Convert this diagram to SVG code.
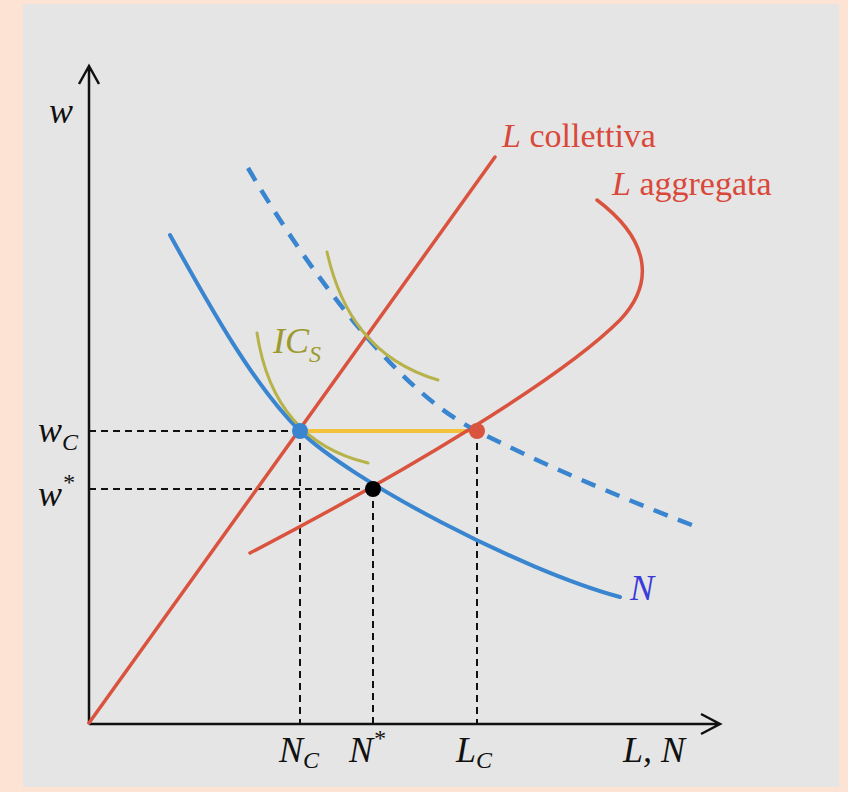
<svg xmlns="http://www.w3.org/2000/svg" width="848" height="792" viewBox="0 0 848 792">
<style>
.axis{stroke:#111;stroke-width:2.5;fill:none}
.guide{stroke:#111;stroke-width:2;stroke-dasharray:7 5;fill:none}
.red{stroke:#d9533f;stroke-width:3.5;fill:none;stroke-linecap:round}
.blue{stroke:#3a85cf;stroke-width:4;fill:none;stroke-linecap:round}
.bluedash{stroke:#3a85cf;stroke-width:4.5;fill:none;stroke-dasharray:15 11}
.ic{stroke:#b7b24a;stroke-width:3;fill:none;stroke-linecap:round}
.yel{stroke:#f2c33a;stroke-width:4;fill:none}
.math{font-family:"Liberation Serif",serif;font-style:italic;font-size:36px;fill:#111}
.sub{font-size:24px}
.redt{font-family:"Liberation Serif",serif;font-size:34px;fill:#d9483a}
</style>
<rect x="0" y="0" width="848" height="792" fill="#fde3d3"/>
<rect x="23" y="4" width="816" height="783" fill="#e5e5e5"/>
<g id="axes">
<path class="axis" d="M89,724 V66 M79,84 L89,66 L99,84"/>
<path class="axis" d="M89,724 H720 M701,714 L720,724 L701,734"/>
</g>
<g id="connectors">
<path class="guide" d="M89,431 H300 M300,431 V724 M89,489 H373 M373,489 V724 M477,431 V724"/>
<path class="yel" d="M300,431 H477"/>
</g>
<g id="L-collettiva">
<path class="red" d="M89,723 L495,157"/>
<text class="redt" x="502" y="147"><tspan font-style="italic">L</tspan> collettiva</text>
</g>
<g id="L-aggregata">
<path class="red" d="M250,553 C400,475 560,380 620,320 C655,283 650,240 597,200"/>
<text class="redt" x="612" y="195"><tspan font-style="italic">L</tspan> aggregata</text>
</g>
<g id="N-curve">
<path class="blue" d="M170,235 C210,307 254,386 300,431 C350,480 520,570 620,597"/>
<text class="math" x="630" y="600" fill="#3b3bd8" style="fill:#3b3bd8">N</text>
</g>
<g id="N-dashed">
<path class="bluedash" d="M248,168 C290,240 385,385 477,431 C560,473 640,505 697,527"/>
</g>
<g id="IC">
<path class="ic" d="M257,333 C268,405 305,448 368,463"/>
<path class="ic" d="M327,252 C340,310 370,360 438,380"/>
<text class="math" x="273" y="353" style="fill:#9c9a2e">IC<tspan class="sub" dy="9">S</tspan></text>
</g>
<g id="points">
<circle cx="300" cy="431" r="8" fill="#3a85cf"/>
<circle cx="477" cy="431" r="8" fill="#d9533f"/>
<circle cx="373" cy="489" r="8" fill="#000"/>
</g>
<g id="labels">
<text class="math" x="49" y="123">w</text>
<text class="math" x="38" y="442">w<tspan class="sub" dy="8">C</tspan></text>
<text class="math" x="38" y="506">w<tspan class="sub" dy="-16">*</tspan></text>
<text class="math" x="279" y="762">N<tspan class="sub" dy="6">C</tspan></text>
<text class="math" x="349" y="762">N<tspan class="sub" dy="-16">*</tspan></text>
<text class="math" x="456" y="762">L<tspan class="sub" dy="6">C</tspan></text>
<text class="math" x="623" y="762">L, N</text>
</g>
</svg>
